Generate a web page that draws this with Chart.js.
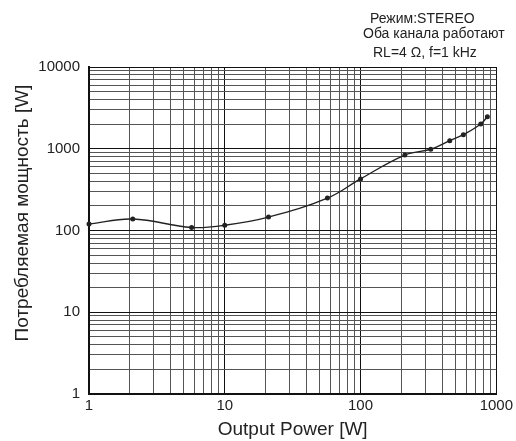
<!DOCTYPE html>
<html>
<head>
<meta charset="utf-8">
<script src="https://cdn.jsdelivr.net/npm/chart.js@4"></script>
<style>
  body { margin: 0; background: #fff; }
  canvas { display: block; }
</style>
</head>
<body>
<canvas id="powerChart" width="516" height="441"></canvas>
<script>
// values
const outputPower = [1, 2.1, 5.7, 10, 21, 57, 100, 212, 329, 454, 572, 768, 859];
const inputPower = [120, 138, 109, 116, 146, 249, 428, 837, 986, 1256, 1486, 2009, 2467];

const xTickLabels = [1, 10, 100, 1000];
const yTickLabels = [1, 10, 100, 1000, 10000];

const noteLines = ['Режим:STEREO', 'Оба канала работают', 'RL=4 Ω, f=1 kHz'];
const yTitle = 'Потребляемая мощность [W]';

const FONT = '"Liberation Sans", Arial, sans-serif';

// all 1..9 multiples of each decade, for the grid
function logGrid(min, max) {
  const vals = [];
  for (let d = min; d < max; d *= 10) {
    for (let m = 1; m < 10; m++) vals.push(d * m);
  }
  vals.push(max);
  return vals;
}

function isDecade(v) {
  return Math.abs(Math.log10(v) - Math.round(Math.log10(v))) < 1e-9;
}

// corner note and the y title (it sits a bit above the middle of the plot)
const textPlugin = {
  id: 'texts',
  afterDraw(chart) {
    const c = chart.ctx;
    c.save();
    c.fillStyle = '#222';
    c.font = '14px ' + FONT;
    c.textBaseline = 'alphabetic';
    c.fillText(noteLines[0], 370, 23);
    c.fillText(noteLines[1], 363, 38);
    c.fillText(noteLines[2], 373, 57);

    c.font = '19px ' + FONT;
    c.translate(23, 213);
    c.rotate(-Math.PI / 2);
    c.textAlign = 'center';
    c.textBaseline = 'middle';
    c.fillText(yTitle, 0, 0);
    c.restore();
  }
};

const ctx = document.getElementById('powerChart');

new Chart(ctx, {
  type: 'line',
  data: {
    datasets: [{
      data: outputPower.map((x, i) => ({ x: x, y: inputPower[i] })),
      borderColor: '#222',
      backgroundColor: '#222',
      borderWidth: 1.4,
      pointRadius: 1.8,
      pointHoverRadius: 1.8,
      tension: 0.4,
      clip: false
    }]
  },
  options: {
    responsive: false,
    animation: false,
    layout: { padding: { top: 67, right: 18, left: 0, bottom: 0 } },
    plugins: {
      legend: { display: false },
      tooltip: { enabled: false }
    },
    scales: {
      x: {
        type: 'logarithmic',
        min: 1,
        max: 1000,
        afterBuildTicks: (s) => { s.ticks = logGrid(1, 1000).map(v => ({ value: v })); },
        afterFit: (s) => { s.height = 47; },
        grid: {
          drawTicks: false,
          color: (c) => (c.tick && isDecade(c.tick.value)) ? '#111' : '#555',
          lineWidth: 1
        },
        border: { color: '#111', width: 2 },
        ticks: {
          autoSkip: false,
          maxRotation: 0,
          padding: 3,
          color: '#222',
          font: { family: FONT, size: 15 },
          callback: (v) => xTickLabels.includes(v) ? String(v) : ''
        },
        title: {
          display: true,
          text: 'Output Power [W]',
          color: '#222',
          font: { family: FONT, size: 19 },
          padding: { top: 0, bottom: 0 }
        }
      },
      y: {
        type: 'logarithmic',
        min: 1,
        max: 10000,
        afterBuildTicks: (s) => { s.ticks = logGrid(1, 10000).map(v => ({ value: v })); },
        afterFit: (s) => { s.width = 89; },
        grid: {
          drawTicks: false,
          color: (c) => (c.tick && isDecade(c.tick.value)) ? '#111' : '#555',
          lineWidth: 1
        },
        border: { color: '#111', width: 2 },
        ticks: {
          autoSkip: false,
          padding: 9,
          color: '#222',
          font: { family: FONT, size: 15 },
          callback: (v) => yTickLabels.includes(v) ? String(v) : ''
        },
        title: { display: false }
      }
    }
  },
  plugins: [textPlugin]
});
</script>
</body>
</html>
